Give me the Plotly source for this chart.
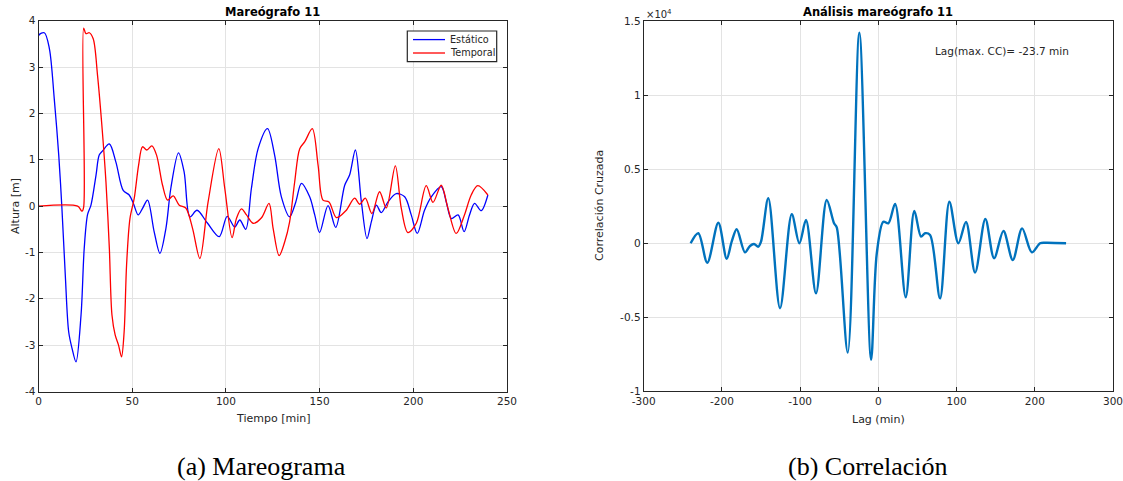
import plotly.graph_objects as go

# ---------------- data: left panel (Mareógrafo 11) ----------------
tiempo_estatico = [0, 0, 3.1, 5.8, 8.4, 10.8, 12.5, 14.3, 16.1, 17.9, 20.0, 22.7, 24.4, 26.2,
                   28.0, 30.7, 32.4, 34.2, 37.8, 41.3, 45.2, 48.4, 50.6, 53.2, 55.5, 58.2,
                   61.7, 64.8, 68.0, 70.6, 74.7, 77.7, 80.8, 84.6, 90.0, 96.4, 100.7, 104.7,
                   107.4, 110.6, 113.6, 117.2, 122.2, 126.0, 129.6, 134.0, 137.3, 140.3,
                   144.7, 147.4, 150.0, 154.5, 158.6, 163.4, 166.0, 169.1, 172.3, 175.3,
                   177.6, 180.3, 182.9, 186.5, 190.9, 195.4, 198.9, 202.1, 206.0, 209.6,
                   214.9, 217.6, 220.3, 223.9, 227.1, 230.0, 232.7, 236.2, 239.8]
altura_estatico = [0, 3.68, 3.74, 3.40, 2.32, 1.10, -0.05, -1.49, -2.71, -3.07, -3.36, -2.35,
                   -0.91, -0.18, 0.02, 0.67, 1.10, 1.19, 1.34, 0.95, 0.34, 0.24, 0.06, -0.19,
                   -0.05, 0.13, -0.55, -1.02, -0.48, 0.38, 1.15, 0.74, -0.23, -0.09, -0.36,
                   -0.66, -0.22, -0.45, -0.30, -0.50, 0.38, 1.24, 1.67, 1.10, 0.20, -0.23,
                   0.09, 0.49, 0.20, -0.19, -0.57, 0.01, -0.46, 0.45, 0.67, 1.21, 0.09,
                   -0.70, -0.34, 0.02, -0.14, 0.09, 0.27, 0.20, -0.19, -0.59, -0.09, 0.20,
                   0.42, 0.09, -0.27, -0.19, -0.55, -0.19, 0.06, -0.10, 0.24]

tiempo_temporal = [0, 20.9, 23.2, 24.1, 24.1, 25.3, 27.1, 29.2, 31.5, 33.8, 36.0, 37.8, 39.2,
                   40.9, 42.7, 44.3, 45.7, 47.0, 48.8, 51.1, 53.4, 55.5, 57.8, 60.5, 63.0,
                   66.2, 68.9, 71.9, 75.1, 78.6, 82.2, 86.1, 90.5, 96.2, 99.4, 103.3, 105.6,
                   108.3, 111.0, 114.5, 119.0, 123.0, 125.2, 128.4, 131.4, 134.0, 136.7,
                   139.4, 142.1, 146.1, 149.2, 151.8, 155.0, 159.0, 164.0, 168.7, 171.4,
                   174.4, 177.9, 182.0, 185.6, 190.4, 193.6, 197.1, 201.6, 206.9, 210.5,
                   214.9, 218.5, 222.9, 227.3, 230.9, 234.4, 239.8]
altura_temporal = [0, 0, -0.11, -0.02, 3.84, 3.72, 3.74, 3.61, 2.82, 1.75, 0.52, -0.91, -2.35,
                   -2.78, -3.00, -3.25, -2.71, -1.27, -0.27, 0.17, 0.88, 1.28, 1.21, 1.30,
                   1.10, 0.45, 0.13, 0.22, 0.02, -0.04, -0.48, -1.13, 0.09, 1.24, 0.38, -0.68,
                   -0.27, -0.06, -0.19, -0.37, -0.25, 0.06, -0.48, -1.07, -0.77, -0.34, 0.52,
                   1.24, 1.39, 1.67, 0.88, 0.13, 0.09, -0.25, -0.10, 0.17, 0.04, 0.17, -0.16,
                   0.31, -0.04, 0.87, -0.05, -0.57, -0.37, 0.44, 0.08, 0.45, -0.05, -0.59,
                   -0.19, 0.24, 0.44, 0.24]

# ---------------- data: right panel (cross-correlation, x1e4) ----------------
lag_min = [-240, -230.2, -218.7, -204.6, -193.9, -187.5, -181.1, -170.5, -164.1, -159.0,
           -153.5, -150.0, -140.7, -125.7, -110.7, -101.0, -92.5, -79.7, -66.0, -56.6,
           -53.2, -39.1, -24.3, -9.3, -2.0, 6.4, 12.8, 21.4, 35.0, 46.0, 54.6, 59.7, 66.1,
           78.9, 90.8, 102.3, 112.1, 123.7, 136.8, 148.0, 159.9, 171.9, 183.8, 196.2,
           206.8, 213.2, 240]
correlacion = [0, 0.068, -0.131, 0.139, -0.104, 0.011, 0.095, -0.061, -0.018, -0.005,
               -0.023, 0.011, 0.304, -0.439, 0.196, 0.0, 0.157, -0.338, 0.293, 0.135, 0.108,
               -0.739, 1.423, -0.788, -0.068, 0.146, 0.135, 0.266, -0.365, 0.218, 0.045,
               0.068, 0.056, -0.372, 0.281, 0.0, 0.144, -0.198, 0.164, -0.101, 0.083,
               -0.113, 0.101, -0.061, 0.0, 0.004, 0]

left_xticks = [0, 50, 100, 150, 200, 250]
left_yticks = [-4, -3, -2, -1, 0, 1, 2, 3, 4]
right_xticks = [-300, -200, -100, 0, 100, 200, 300]
right_yticks = [-1, -0.5, 0, 0.5, 1, 1.5]
series_names = ["Estático", "Temporal"]
series_colors = ["#0000ff", "#ff0000"]

W, H = 1123, 481
def px(x):
    return x / W
def py(y):
    return 1 - y / H

def labels(vals):
    return [("%g" % v) for v in vals]

FONT = "DejaVu Sans"
AX = "#262626"
GRID = "#e3e3e3"

fig = go.Figure()
fig.add_trace(go.Scatter(x=tiempo_estatico, y=altura_estatico, mode="lines", name=series_names[0],
                         line=dict(color=series_colors[0], width=1.3, shape="spline", smoothing=0.9),
                         xaxis="x", yaxis="y"))
fig.add_trace(go.Scatter(x=tiempo_temporal, y=altura_temporal, mode="lines", name=series_names[1],
                         line=dict(color=series_colors[1], width=1.3, shape="spline", smoothing=0.9),
                         xaxis="x", yaxis="y"))
fig.add_trace(go.Scatter(x=lag_min, y=correlacion, mode="lines", name="Correlación",
                         line=dict(color="#0072bd", width=2.4, shape="spline", smoothing=0.9),
                         xaxis="x2", yaxis="y2"))

axcommon = dict(showline=True, linecolor=AX, linewidth=1, mirror="allticks", ticks="inside",
                ticklen=4, tickcolor=AX, showgrid=True, gridcolor=GRID, gridwidth=1,
                zeroline=False, automargin=False, ticklabeloverflow="allow",
                tickfont=dict(family=FONT, size=10.5, color=AX))

fig.update_layout(
    width=W, height=H, autosize=False,
    margin=dict(l=0, r=0, t=0, b=0, autoexpand=False),
    paper_bgcolor="white", plot_bgcolor="white",
    xaxis=dict(domain=[px(38.5), px(507)], range=[0, 250], tickvals=left_xticks,
               ticktext=labels(left_xticks), anchor="y", **axcommon),
    yaxis=dict(domain=[py(391.5), py(20.7)], range=[-4, 4], tickvals=left_yticks,
               ticktext=labels(left_yticks), anchor="x", **axcommon),
    xaxis2=dict(domain=[px(643.7), px(1113)], range=[-300, 300], tickvals=right_xticks,
                ticktext=labels(right_xticks), anchor="y2", **axcommon),
    yaxis2=dict(domain=[py(391.3), py(21.3)], range=[-1, 1.5], tickvals=right_yticks,
                ticktext=labels(right_yticks), anchor="x2", **axcommon),
    showlegend=False,
)

def ann(text, x, y, size=11, bold=False, angle=0, xanchor="center", yanchor="middle",
        family=FONT, color=AX):
    fig.add_annotation(text=("<b>%s</b>" % text) if bold else text, x=px(x), y=py(y),
                       xref="paper", yref="paper", showarrow=False, textangle=angle,
                       xanchor=xanchor, yanchor=yanchor,
                       font=dict(family=family, size=size, color=color))

# legend box (MATLAB style, compact rows)
fig.add_shape(type="rect", xref="paper", yref="paper", x0=px(407.3), x1=px(496.7),
              y0=py(61.7), y1=py(31), line=dict(color=AX, width=1.2), fillcolor="white")
for i, (nm, col) in enumerate(zip(series_names, series_colors)):
    yy = 39.6 + i * 13.4
    fig.add_shape(type="line", xref="paper", yref="paper", x0=px(413), x1=px(445),
                  y0=py(yy), y1=py(yy), line=dict(color=col, width=1.3))
    ann(nm, 448, yy, size=9.7, xanchor="left")

ann("Mareógrafo 11", 272.7, 11.5, size=11.5, bold=True, color="#000000")
ann("Análisis mareógrafo 11", 878.3, 12, size=11.5, bold=True, color="#000000")
ann("Tiempo [min]", 272.7, 418, size=11)
ann("Lag (min)", 878.3, 419, size=11)
ann("Altura [m]", 15, 206, size=11, angle=-90)
ann("Correlación Cruzada", 599, 206, size=11, angle=-90)
ann("×10<sup>4</sup>", 644, 14, size=10, xanchor="left")
ann("Lag(max. CC)= -23.7 min", 932.7, 51, size=10.5, xanchor="left")
ann("(a) Mareograma", 261.7, 466, size=26, family="Liberation Serif", color="#000000")
ann("(b) Correlación", 867.8, 466, size=26, family="Liberation Serif", color="#000000")

fig.write_html("out.html", config={"displayModeBar": False},
               post_script="document.body.style.margin='0';"
                           "document.body.style.overflow='hidden';"
                           "document.documentElement.style.overflow='hidden';")
